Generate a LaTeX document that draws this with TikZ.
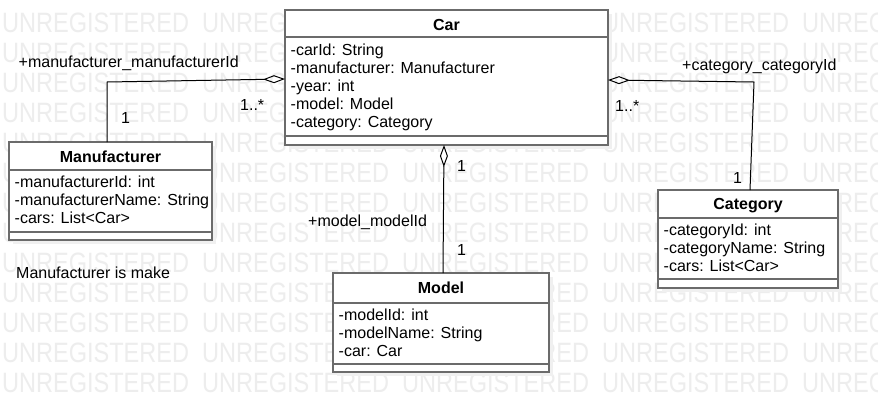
\documentclass[tikz,border=0pt]{standalone}
\usepackage{fontspec}
\setmainfont{Liberation Sans}
\usepackage{graphicx}
\usetikzlibrary{arrows.meta}
\begin{document}
\begin{tikzpicture}[x=1pt,y=-1pt,
  boxline/.style={draw=black!58, line width=1.5pt},
  umlbox/.style={boxline, fill=white, inner sep=0pt, outer sep=0pt, anchor=north west},
  boxshade/.style={fill=black!6, draw=none},
  attr/.style={anchor=base west, inner sep=0pt, font=\fontsize{16}{18}\selectfont},
  title/.style={anchor=base, inner sep=0pt, font=\fontsize{16}{18}\selectfont\bfseries},
  lbl/.style={anchor=base west, inner sep=0pt, font=\fontsize{16}{18}\selectfont},
  assoc/.style={black, line width=1pt, {Diamond[open, length=22pt, width=8pt, line width=1pt]}-},
  wm/.style={anchor=base west, inner sep=0pt, text=black!7, font=\fontsize{28}{30}\selectfont}
]
\useasboundingbox (0,0) rectangle (878,413);
\fill[white] (0,0) rectangle (878,413);
% watermark
\foreach \r in {0,...,12}{
  \foreach \c in {0,...,4}{
    \node[wm] (wm-\r-\c) at (2+200*\c, 32+30*\r) {\scalebox{0.84}[1]{UNREGISTERED}};
  }
}
% shadows
\fill[boxshade] (289,14) rectangle (612,149);
\fill[boxshade] (13,146) rectangle (216,244);
\fill[boxshade] (662,194) rectangle (842,292);
\fill[boxshade] (337,277) rectangle (553,376);
% Car
\node[umlbox, minimum width=323pt, minimum height=135pt] (car) at (285,10) {};
\draw[boxline] ([yshift=-27pt]car.north west) -- ([yshift=-27pt]car.north east);
\draw[boxline] ([yshift=9pt]car.south west) -- ([yshift=9pt]car.south east);
\node[title] (car-t) at (446.5,30) {Car};
\node[attr] (car-a1) at (290.5,55) {-carId: String};
\node[attr] (car-a2) at (290.5,73) {-manufacturer: Manufacturer};
\node[attr] (car-a3) at (290.5,91) {-year: int};
\node[attr] (car-a4) at (290.5,109) {-model: Model};
\node[attr] (car-a5) at (290.5,127) {-category: Category};
% Manufacturer
\node[umlbox, minimum width=203pt, minimum height=98pt] (manu) at (9,142) {};
\draw[boxline] ([yshift=-28pt]manu.north west) -- ([yshift=-28pt]manu.north east);
\draw[boxline] ([yshift=8pt]manu.south west) -- ([yshift=8pt]manu.south east);
\node[title] (manu-t) at (110.5,162) {Manufacturer};
\node[attr] (manu-a1) at (14.5,187.5) {-manufacturerId: int};
\node[attr] (manu-a2) at (14.5,205.5) {-manufacturerName: String};
\node[attr] (manu-a3) at (14.5,223.5) {-cars: List<Car>};
% Category
\node[umlbox, minimum width=180pt, minimum height=98pt] (cat) at (658,190) {};
\draw[boxline] ([yshift=-28pt]cat.north west) -- ([yshift=-28pt]cat.north east);
\draw[boxline] ([yshift=9pt]cat.south west) -- ([yshift=9pt]cat.south east);
\node[title] (cat-t) at (748,209) {Category};
\node[attr] (cat-a1) at (663.5,235) {-categoryId: int};
\node[attr] (cat-a2) at (663.5,253) {-categoryName: String};
\node[attr] (cat-a3) at (663.5,271) {-cars: List<Car>};
% Model
\node[umlbox, minimum width=216pt, minimum height=99pt] (model) at (333,273) {};
\draw[boxline] ([yshift=-30pt]model.north west) -- ([yshift=-30pt]model.north east);
\draw[boxline] ([yshift=8pt]model.south west) -- ([yshift=8pt]model.south east);
\node[title] (model-t) at (441,293.5) {Model};
\node[attr] (model-a1) at (338.5,320) {-modelId: int};
\node[attr] (model-a2) at (338.5,338) {-modelName: String};
\node[attr] (model-a3) at (338.5,356) {-car: Car};
% connectors
\coordinate (m1) at (0,79);
\coordinate (mb) at (107,82);
\draw[assoc] (car.west |- m1) -- (mb) -- (manu.north -| mb);
\coordinate (c1) at (0,80);
\coordinate (cb) at (754,82);
\coordinate (ce) at (750,0);
\draw[assoc] (car.east |- c1) -- (cb) -- (cat.north -| ce);
\coordinate (mo) at (444,0);
\coordinate (mo2) at (443,0);
\draw[assoc] (car.south -| mo) -- (model.north -| mo2);
% labels
\node[lbl] (l1) at (18.5,67) {+manufacturer\_manufacturerId};
\node[lbl] (l2) at (121,123) {1};
\node[lbl] (l3) at (240,110) {1..*};
\node[lbl] (l4) at (682,70) {+category\_categoryId};
\node[lbl] (l5) at (615,111) {1..*};
\node[lbl] (l6) at (733,183) {1};
\node[lbl] (l7) at (457,171) {1};
\node[lbl] (l8) at (308,226) {+model\_modelId};
\node[lbl] (l9) at (457,255) {1};
\node[lbl] (note) at (16,278) {Manufacturer is make};
\end{tikzpicture}
\end{document}
